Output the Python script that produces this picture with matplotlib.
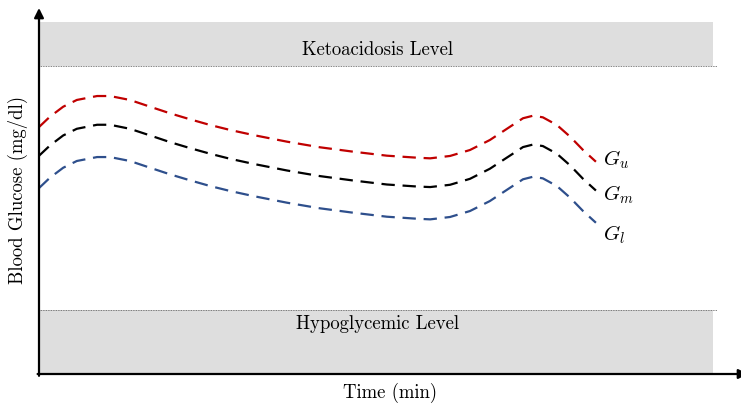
import matplotlib
matplotlib.use("Agg")
import matplotlib.pyplot as plt

plt.rcParams["font.family"] = "serif"
plt.rcParams["font.serif"] = ["cmr10", "DejaVu Serif"]
plt.rcParams["mathtext.fontset"] = "cm"
plt.rcParams["axes.formatter.use_mathtext"] = True

# time (min) and glucose (mg/dl)
time = [0, 2.8, 6.2, 9.7, 14.9, 18.2, 23.3, 28.5, 33.6, 38.7, 43.9, 49, 54.9, 63.6, 72,
        80.5, 89.2, 96.9, 100.3, 105.4, 110.5, 115.6, 120.8, 124.1, 126.7, 129.2, 132.8,
        136.2, 139.5, 142.8]
g_upper = [269.9, 281.2, 292.1, 299.5, 303.8, 303.8, 299.5, 292.1, 284.9, 278.4, 272.1,
           266.7, 261.2, 253.9, 247.8, 243, 238.6, 236.4, 235.7, 238.3, 244.8, 255.7,
           270.3, 279.5, 282.3, 280.5, 272.1, 259.3, 244.8, 232]
g_mid = [238.5, 249.7, 260.7, 268, 272.4, 272.4, 268, 260.7, 253.4, 246.9, 240.7, 235.2,
         229.7, 222.4, 216.3, 211.5, 207.1, 204.9, 204.3, 206.8, 213.3, 224.3, 238.8,
         248, 250.8, 249.1, 240.7, 227.9, 213.3, 200.5]
g_lower = [203.2, 214.5, 225.4, 232.8, 237.1, 237.1, 232.8, 225.4, 218.2, 211.7, 205.4,
           200, 194.5, 187.2, 181.1, 176.3, 171.9, 169.7, 169, 171.6, 178.1, 189, 203.6,
           212.8, 215.6, 213.8, 205.4, 192.6, 178.1, 165.3]

series_labels = [r"$G_u$", r"$G_m$", r"$G_l$"]
series_colors = ["#c00000", "black", "#2e4f8c"]
label_y = [234, 195.5, 152]

keto_range = (336.6, 384.7)
hypo_range = (0, 70)
band_end = 172.8

fig = plt.figure(figsize=(7.41, 4.04), dpi=100)
ax = fig.add_axes([39 / 741, 30 / 404, 702 / 741, 366 / 404])
ax.set_xlim(0, 180)
ax.set_ylim(0, 400)
for s in ax.spines.values():
    s.set_visible(False)
ax.set_xticks([])
ax.set_yticks([])

# danger bands
ax.fill_between([0, band_end], keto_range[0], keto_range[1], color="#dedede", lw=0, zorder=0)
ax.fill_between([0, band_end], hypo_range[0], hypo_range[1], color="#dedede", lw=0, zorder=0)
ax.plot([0, band_end + 1], [keto_range[0]] * 2, ls=(0, (1, 1)), color="#555555", lw=0.6)
ax.plot([0, band_end + 1], [hypo_range[1]] * 2, ls=(0, (1, 1)), color="#555555", lw=0.6)
ax.text(band_end / 2 + 0.5, 354, "Ketoacidosis Level", ha="center", va="center", fontsize=13.5)
ax.text(band_end / 2 + 0.5, 55, "Hypoglycemic Level", ha="center", va="center", fontsize=13.5)

# glucose curves
for ys, c, lab, ly in zip([g_upper, g_mid, g_lower], series_colors, series_labels, label_y):
    ax.plot(time, ys, color=c, lw=1.6, ls=(0, (6, 3.5)), solid_capstyle="butt")
    ax.text(144.6, ly, lab, ha="left", va="center", fontsize=15)

# axes with arrows
ax.annotate("", xy=(0, 1), xytext=(0, -0.005), xycoords="axes fraction",
            arrowprops=dict(arrowstyle="-|>", color="black", lw=1.6, mutation_scale=14,
                            shrinkA=0, shrinkB=0))
ax.annotate("", xy=(1.01, 0), xytext=(-0.002, 0), xycoords="axes fraction",
            arrowprops=dict(arrowstyle="-|>", color="black", lw=1.6, mutation_scale=14,
                            shrinkA=0, shrinkB=0), annotation_clip=False)

fig.text(18 / 741, 1 - 190 / 404, "Blood Glucose (mg/dl)", rotation=90,
         ha="center", va="center", fontsize=13.5)
fig.text(390 / 741, 1 - 393 / 404, "Time (min)", ha="center", va="center", fontsize=13.5)

fig.savefig("out.png", dpi=100)
